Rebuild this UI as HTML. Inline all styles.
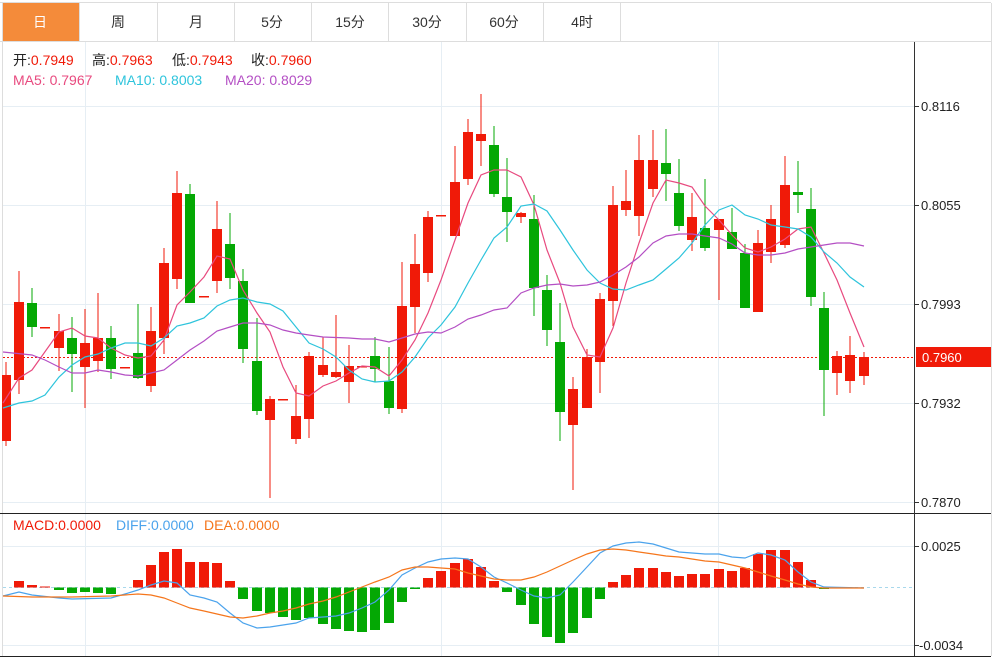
<!DOCTYPE html>
<html><head><meta charset="utf-8">
<style>
body{margin:0;width:1008px;height:658px;background:#fff;overflow:hidden;font-family:"Liberation Sans","Noto Sans CJK SC",sans-serif;}
svg{position:absolute;left:0;top:0}
</style></head><body>
<svg width="1008" height="658" viewBox="0 0 1008 658" font-family="Liberation Sans, Noto Sans CJK SC, sans-serif">
<rect x="0" y="0" width="1008" height="41" fill="#fff"/>
<line x1="0" y1="2.5" x2="991" y2="2.5" stroke="#ddd"/>
<line x1="0" y1="41.5" x2="991" y2="41.5" stroke="#ddd"/>
<rect x="2" y="3" width="77" height="38" fill="#f48b3a"/>
<g stroke="#ddd">
<line x1="79.5" y1="3" x2="79.5" y2="41"/><line x1="157.5" y1="3" x2="157.5" y2="41"/><line x1="234.5" y1="3" x2="234.5" y2="41"/><line x1="311.5" y1="3" x2="311.5" y2="41"/><line x1="388.5" y1="3" x2="388.5" y2="41"/><line x1="466.5" y1="3" x2="466.5" y2="41"/><line x1="543.5" y1="3" x2="543.5" y2="41"/><line x1="620.5" y1="3" x2="620.5" y2="41"/>
<line x1="2.5" y1="3" x2="2.5" y2="656"/><line x1="991.5" y1="3" x2="991.5" y2="656"/>
</g>
<g font-size="14" text-anchor="middle" fill="#333">
<text x="40" y="27" fill="#fff">日</text><text x="118" y="27">周</text><text x="196" y="27">月</text><text x="272" y="27">5分</text><text x="350" y="27">15分</text><text x="427" y="27">30分</text><text x="504" y="27">60分</text><text x="582" y="27">4时</text>
</g>
<g stroke="#e6eef4">
<line x1="3" y1="106.5" x2="914" y2="106.5"/><line x1="3" y1="205.5" x2="914" y2="205.5"/><line x1="3" y1="304.5" x2="914" y2="304.5"/><line x1="3" y1="403.5" x2="914" y2="403.5"/><line x1="3" y1="502.5" x2="914" y2="502.5"/>
<line x1="3" y1="546.5" x2="914" y2="546.5"/><line x1="3" y1="645.5" x2="914" y2="645.5"/>
<line x1="85.5" y1="42" x2="85.5" y2="656"/><line x1="441.5" y1="42" x2="441.5" y2="656"/><line x1="718.5" y1="42" x2="718.5" y2="656"/>
</g>
<line x1="0" y1="513.5" x2="991" y2="513.5" stroke="#222"/>
<line x1="0" y1="656.5" x2="991" y2="656.5" stroke="#222"/>
<line x1="914.5" y1="42" x2="914.5" y2="656" stroke="#333"/>
<g font-size="14">
<text x="13" y="65" fill="#222">开:<tspan fill="#f01a08">0.7949</tspan><tspan x="92" fill="#222">高:</tspan><tspan fill="#f01a08">0.7963</tspan><tspan x="172" fill="#222">低:</tspan><tspan fill="#f01a08">0.7943</tspan><tspan x="251" fill="#222">收:</tspan><tspan fill="#f01a08">0.7960</tspan></text>
<text x="13" y="85" fill="#e84a7f">MA5: 0.7967<tspan x="115" fill="#2ec4dc">MA10: 0.8003</tspan><tspan x="225" fill="#b44fc4">MA20: 0.8029</tspan></text>
<text x="13" y="530" fill="#f01a08">MACD:0.0000<tspan x="116" fill="#4ba3ec">DIFF:0.0000</tspan><tspan x="204" fill="#f5761c">DEA:0.0000</tspan></text>
</g>
<g font-size="13" fill="#222">
<g stroke="#333"><line x1="914" y1="106.5" x2="919" y2="106.5"/><line x1="914" y1="205.5" x2="919" y2="205.5"/><line x1="914" y1="304.5" x2="919" y2="304.5"/><line x1="914" y1="403.5" x2="919" y2="403.5"/><line x1="914" y1="502.5" x2="919" y2="502.5"/><line x1="914" y1="546.5" x2="919" y2="546.5"/><line x1="914" y1="645.5" x2="919" y2="645.5"/></g>
<text x="921" y="111">0.8116</text><text x="921" y="210">0.8055</text><text x="921" y="309">0.7993</text><text x="921" y="408">0.7932</text><text x="921" y="507">0.7870</text>
<text x="921" y="551">0.0025</text><text x="919" y="650">-0.0034</text>
</g>
<rect x="916" y="347" width="75" height="20" fill="#f01a08"/>
<text x="922" y="362" font-size="13" fill="#fff">0.7960</text>
<line x1="3" y1="357.5" x2="914" y2="357.5" stroke="#f01a08" stroke-dasharray="2,2"/>
<g>
<g fill="#f01a08" stroke="#f01a08">
<line x1="6" y1="362" x2="6" y2="446"/><rect x="2" y="375" width="9" height="66" stroke="none"/>
<line x1="19" y1="271" x2="19" y2="394"/><rect x="14" y="302" width="10" height="78" stroke="none"/>
<rect x="40" y="327" width="10" height="1.5" stroke="none"/>
<line x1="59" y1="314" x2="59" y2="371"/><rect x="54" y="331" width="10" height="17" stroke="none"/>
<line x1="85" y1="309" x2="85" y2="408"/><rect x="80" y="343" width="10" height="24" stroke="none"/>
<line x1="98" y1="293" x2="98" y2="372"/><rect x="93" y="338" width="10" height="23" stroke="none"/>
<rect x="120" y="367" width="10" height="1.5" stroke="none"/>
<line x1="151" y1="307" x2="151" y2="392"/><rect x="146" y="331" width="10" height="55" stroke="none"/>
<line x1="164" y1="248" x2="164" y2="354"/><rect x="159" y="263" width="10" height="75" stroke="none"/>
<line x1="177" y1="171" x2="177" y2="289"/><rect x="172" y="193" width="10" height="86" stroke="none"/>
<rect x="199" y="296" width="10" height="1.5" stroke="none"/>
<line x1="217" y1="201" x2="217" y2="293"/><rect x="212" y="229" width="10" height="52" stroke="none"/>
<line x1="270" y1="396" x2="270" y2="498"/><rect x="265" y="399" width="10" height="21" stroke="none"/>
<rect x="278" y="399" width="10" height="1.5" stroke="none"/>
<line x1="296" y1="385" x2="296" y2="444"/><rect x="291" y="416" width="10" height="23" stroke="none"/>
<line x1="309" y1="352" x2="309" y2="438"/><rect x="304" y="356" width="10" height="63" stroke="none"/>
<line x1="323" y1="337" x2="323" y2="377"/><rect x="318" y="365" width="10" height="10" stroke="none"/>
<line x1="336" y1="315" x2="336" y2="378"/><rect x="331" y="372" width="10" height="5" stroke="none"/>
<line x1="349" y1="345" x2="349" y2="403"/><rect x="344" y="366" width="10" height="16" stroke="none"/>
<rect x="357" y="366" width="10" height="1.5" stroke="none"/>
<line x1="402" y1="262" x2="402" y2="413"/><rect x="397" y="306" width="10" height="103" stroke="none"/>
<line x1="415" y1="234" x2="415" y2="333"/><rect x="410" y="264" width="10" height="43" stroke="none"/>
<line x1="428" y1="211" x2="428" y2="282"/><rect x="423" y="217" width="10" height="56" stroke="none"/>
<rect x="436" y="215" width="10" height="1.5" stroke="none"/>
<line x1="455" y1="146" x2="455" y2="236"/><rect x="450" y="182" width="10" height="54" stroke="none"/>
<line x1="468" y1="119" x2="468" y2="185"/><rect x="463" y="132" width="10" height="47" stroke="none"/>
<line x1="481" y1="94" x2="481" y2="166"/><rect x="476" y="134" width="10" height="7" stroke="none"/>
<line x1="521" y1="212" x2="521" y2="223"/><rect x="516" y="213" width="10" height="4" stroke="none"/>
<line x1="573" y1="377" x2="573" y2="490"/><rect x="568" y="389" width="10" height="36" stroke="none"/>
<line x1="587" y1="349" x2="587" y2="408"/><rect x="582" y="357" width="10" height="51" stroke="none"/>
<line x1="600" y1="293" x2="600" y2="393"/><rect x="595" y="299" width="10" height="63" stroke="none"/>
<line x1="613" y1="186" x2="613" y2="326"/><rect x="608" y="205" width="10" height="96" stroke="none"/>
<line x1="626" y1="170" x2="626" y2="216"/><rect x="621" y="201" width="10" height="9" stroke="none"/>
<line x1="639" y1="135" x2="639" y2="236"/><rect x="634" y="160" width="10" height="56" stroke="none"/>
<line x1="653" y1="130" x2="653" y2="197"/><rect x="648" y="160" width="10" height="29" stroke="none"/>
<line x1="692" y1="193" x2="692" y2="251"/><rect x="687" y="217" width="10" height="23" stroke="none"/>
<line x1="719" y1="219" x2="719" y2="300"/><rect x="714" y="219" width="10" height="11" stroke="none"/>
<line x1="758" y1="230" x2="758" y2="312"/><rect x="753" y="243" width="10" height="69" stroke="none"/>
<line x1="771" y1="205" x2="771" y2="263"/><rect x="766" y="219" width="10" height="33" stroke="none"/>
<line x1="785" y1="156" x2="785" y2="248"/><rect x="780" y="185" width="10" height="60" stroke="none"/>
<line x1="837" y1="351" x2="837" y2="395"/><rect x="832" y="356" width="10" height="17" stroke="none"/>
<line x1="850" y1="336" x2="850" y2="393"/><rect x="845" y="355" width="10" height="26" stroke="none"/>
<line x1="864" y1="352" x2="864" y2="385"/><rect x="859" y="357" width="10" height="19" stroke="none"/>
</g>
<g fill="#04a804" stroke="#04a804">
<line x1="32" y1="288" x2="32" y2="337"/><rect x="27" y="303" width="10" height="24" stroke="none"/>
<line x1="72" y1="317" x2="72" y2="392"/><rect x="67" y="338" width="10" height="16" stroke="none"/>
<line x1="111" y1="326" x2="111" y2="379"/><rect x="106" y="338" width="10" height="31" stroke="none"/>
<line x1="138" y1="304" x2="138" y2="379"/><rect x="133" y="353" width="10" height="25" stroke="none"/>
<line x1="190" y1="184" x2="190" y2="303"/><rect x="185" y="194" width="10" height="109" stroke="none"/>
<line x1="230" y1="213" x2="230" y2="289"/><rect x="225" y="244" width="10" height="34" stroke="none"/>
<line x1="243" y1="269" x2="243" y2="363"/><rect x="238" y="281" width="10" height="68" stroke="none"/>
<line x1="257" y1="318" x2="257" y2="415"/><rect x="252" y="361" width="10" height="50" stroke="none"/>
<line x1="375" y1="337" x2="375" y2="382"/><rect x="370" y="356" width="10" height="13" stroke="none"/>
<line x1="389" y1="347" x2="389" y2="414"/><rect x="384" y="381" width="10" height="27" stroke="none"/>
<line x1="494" y1="126" x2="494" y2="197"/><rect x="489" y="145" width="10" height="49" stroke="none"/>
<line x1="507" y1="158" x2="507" y2="242"/><rect x="502" y="197" width="10" height="15" stroke="none"/>
<line x1="534" y1="195" x2="534" y2="316"/><rect x="529" y="219" width="10" height="69" stroke="none"/>
<line x1="547" y1="275" x2="547" y2="346"/><rect x="542" y="290" width="10" height="40" stroke="none"/>
<line x1="560" y1="303" x2="560" y2="441"/><rect x="555" y="342" width="10" height="70" stroke="none"/>
<line x1="666" y1="129" x2="666" y2="201"/><rect x="661" y="163" width="10" height="11" stroke="none"/>
<line x1="679" y1="159" x2="679" y2="231"/><rect x="674" y="193" width="10" height="33" stroke="none"/>
<line x1="705" y1="179" x2="705" y2="251"/><rect x="700" y="228" width="10" height="20" stroke="none"/>
<line x1="732" y1="208" x2="732" y2="249"/><rect x="727" y="232" width="10" height="17" stroke="none"/>
<line x1="745" y1="244" x2="745" y2="308"/><rect x="740" y="253" width="10" height="55" stroke="none"/>
<line x1="798" y1="161" x2="798" y2="213"/><rect x="793" y="192" width="10" height="3" stroke="none"/>
<line x1="811" y1="188" x2="811" y2="306"/><rect x="806" y="209" width="10" height="88" stroke="none"/>
<line x1="824" y1="292" x2="824" y2="416"/><rect x="819" y="308" width="10" height="62" stroke="none"/>
</g>
</g>
<g fill="none" stroke-width="1.2">
<polyline stroke="#e84a7f" points="3,403 19,378 32,370 59,332 72,328 85,336 98,338 111,348 125,355 138,358 151,356 164,340 177,305 190,292 204,277 217,256 230,259 243,290 257,313 270,332 283,367 296,393 309,396 323,386 336,381 349,373 362,366 375,367 389,376 402,360 415,340 428,313 441,280 455,240 468,203 481,175 494,170 507,170 521,177 534,205 547,250 560,283 573,327 587,355 600,357 613,328 626,283 639,243 653,203 666,180 679,183 692,187 705,206 719,220 732,235 745,248 758,252 771,247 785,239 798,229 811,227 824,253 837,280 850,313 864,347"/>
<polyline stroke="#2ec4dc" points="3,408 19,403 32,401 45,395 59,377 72,365 85,357 98,354 111,348 125,343 138,343 151,346 164,338 177,326 190,323 204,318 217,306 230,300 243,298 257,302 270,304 283,311 296,327 309,343 323,349 336,357 349,370 362,379 375,382 389,381 402,372 415,357 428,338 441,325 455,307 468,283 481,260 494,238 507,227 521,206 534,204 547,211 560,230 573,250 587,270 600,283 613,289 626,290 639,285 653,280 666,269 679,258 692,243 705,225 719,210 732,205 745,215 758,219 771,225 785,227 798,229 811,237 824,252 837,263 850,277 864,287"/>
<polyline stroke="#b44fc4" points="3,352 32,355 45,360 59,367 72,373 85,373 98,370 111,372 125,375 138,376 151,373 164,370 177,360 190,350 204,341 217,331 230,327 243,323 257,323 270,325 283,330 296,333 309,335 323,337 349,338 362,339 375,339 389,342 402,338 415,334 428,332 441,333 455,327 468,319 481,315 494,310 507,308 521,293 534,288 547,285 560,284 573,286 587,285 600,282 613,275 626,267 639,257 653,243 666,236 679,234 692,234 705,236 719,238 732,244 745,253 758,255 771,255 785,253 798,249 811,247 824,245 837,243 850,243 864,246"/>
</g>
<line x1="3" y1="587.5" x2="914" y2="587.5" stroke="#a8d8ec" stroke-dasharray="3,3"/>
<g fill="#f01a08">
<rect x="14" y="581" width="10" height="6.5"/><rect x="27" y="585" width="10" height="2.5"/><rect x="40" y="586.5" width="10" height="1"/>
<rect x="133" y="580" width="10" height="7.5"/><rect x="146" y="565" width="10" height="22.5"/><rect x="159" y="552" width="10" height="35.5"/><rect x="172" y="549" width="10" height="38.5"/><rect x="185" y="562" width="10" height="25.5"/><rect x="199" y="562" width="10" height="25.5"/><rect x="212" y="563" width="10" height="24.5"/><rect x="225" y="581" width="10" height="6.5"/>
<rect x="423" y="578" width="10" height="9.5"/><rect x="436" y="571" width="10" height="16.5"/><rect x="450" y="563" width="10" height="24.5"/><rect x="463" y="559" width="10" height="28.5"/><rect x="476" y="567" width="10" height="20.5"/><rect x="489" y="581" width="10" height="6.5"/>
<rect x="608" y="582" width="10" height="5.5"/><rect x="621" y="575" width="10" height="12.5"/><rect x="634" y="568" width="10" height="19.5"/><rect x="648" y="568" width="10" height="19.5"/><rect x="661" y="572" width="10" height="15.5"/><rect x="674" y="576" width="10" height="11.5"/><rect x="687" y="574" width="10" height="13.5"/><rect x="700" y="574" width="10" height="13.5"/><rect x="714" y="569" width="10" height="18.5"/><rect x="727" y="571" width="10" height="16.5"/><rect x="740" y="568" width="10" height="19.5"/><rect x="753" y="554" width="10" height="33.5"/><rect x="766" y="550" width="10" height="37.5"/><rect x="780" y="550" width="10" height="37.5"/><rect x="793" y="562" width="10" height="25.5"/><rect x="806" y="580" width="10" height="7.5"/>
</g>
<g fill="#04a804">
<rect x="54" y="587.5" width="10" height="2.5"/><rect x="67" y="587.5" width="10" height="5.5"/><rect x="80" y="587.5" width="10" height="4.5"/><rect x="93" y="587.5" width="10" height="5.5"/><rect x="106" y="587.5" width="10" height="6.5"/>
<rect x="238" y="587.5" width="10" height="11.5"/><rect x="252" y="587.5" width="10" height="23.5"/><rect x="265" y="587.5" width="10" height="25.5"/><rect x="278" y="587.5" width="10" height="29.5"/><rect x="291" y="587.5" width="10" height="32.5"/><rect x="304" y="587.5" width="10" height="30.5"/><rect x="318" y="587.5" width="10" height="36.5"/><rect x="331" y="587.5" width="10" height="41.5"/><rect x="344" y="587.5" width="10" height="43.5"/><rect x="357" y="587.5" width="10" height="44.5"/><rect x="370" y="587.5" width="10" height="42.5"/><rect x="384" y="587.5" width="10" height="35.5"/><rect x="397" y="587.5" width="10" height="14.5"/><rect x="410" y="587.5" width="10" height="1.5"/>
<rect x="502" y="587.5" width="10" height="4.5"/><rect x="516" y="587.5" width="10" height="17.5"/><rect x="529" y="587.5" width="10" height="36.5"/><rect x="542" y="587.5" width="10" height="49.5"/><rect x="555" y="587.5" width="10" height="55.5"/><rect x="568" y="587.5" width="10" height="45.5"/><rect x="582" y="587.5" width="10" height="30.5"/><rect x="595" y="587.5" width="10" height="11.5"/><rect x="819" y="587.5" width="10" height="1.5"/>
</g>
<g fill="none" stroke-width="1.2">
<polyline stroke="#4ba3ec" points="3,596 19,592 32,595 59,598 72,599 111,598 125,594 138,590 151,585 164,581 177,583 190,595 204,598 217,602 230,613 243,623 257,628 270,627 283,625 296,623 309,618 323,617 336,616 349,613 362,608 375,602 389,590 402,575 415,568 428,562 441,559 455,558 468,559 481,567 494,577 507,583 521,590 534,596 547,598 560,595 573,582 587,567 600,553 613,546 626,543 639,542 653,544 666,548 679,552 692,553 705,554 719,554 732,557 745,558 758,553 771,555 785,560 798,572 811,582 824,587 864,588"/>
<polyline stroke="#f5761c" points="3,596 32,597 72,597 111,596 138,594 151,595 164,598 177,603 190,608 204,611 217,614 230,617 243,618 257,616 270,613 283,611 296,608 309,604 323,601 336,597 349,592 362,587 375,582 389,577 402,570 415,567 428,567 441,568 455,569 468,573 481,576 494,579 507,580 521,580 534,577 547,572 560,566 573,560 587,554 600,550 613,549 626,550 639,552 653,554 666,556 679,557 692,559 705,561 719,562 732,565 745,568 758,572 771,576 785,580 798,584 811,587 824,588 864,588"/>
</g>
</svg>
</body></html>
